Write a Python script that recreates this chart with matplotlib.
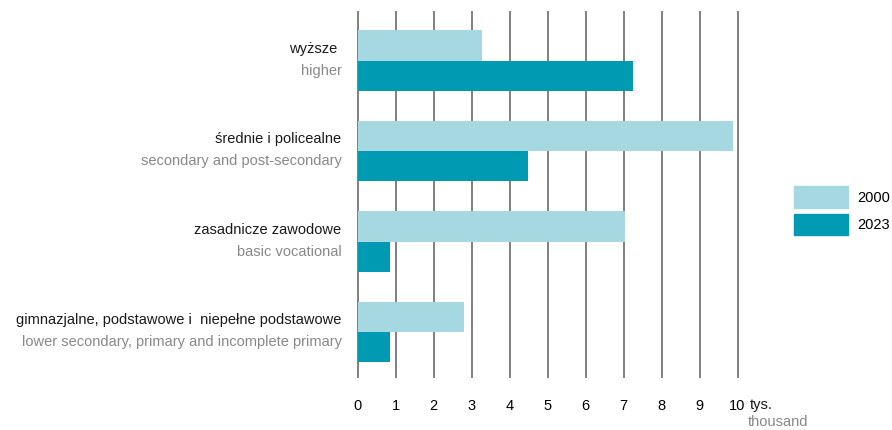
import numpy as np
import matplotlib
matplotlib.use("Agg")
import matplotlib.pyplot as plt
from matplotlib.patches import Patch

plt.rcParams['font.family'] = ['Liberation Sans', 'DejaVu Sans']

# dane
labels_pl = ["wyższe ", "średnie i policealne", "zasadnicze zawodowe",
             "gimnazjalne, podstawowe i  niepełne podstawowe"]
labels_en = ["higher", "secondary and post-secondary", "basic vocational",
             "lower secondary, primary and incomplete primary"]
years = ["2000", "2023"]
values_2000 = [3.27, 9.87, 7.04, 2.81]
values_2023 = [7.25, 4.49, 0.86, 0.86]
xticks = list(range(0, 11))

c_light = "#a6d8e2"
c_dark = "#009ab3"
fs = 10.5

fig = plt.figure(figsize=(8.92, 4.30), dpi=100)
W, H = 892, 430
ax = fig.add_axes([357.5 / W, 1 - 377 / H, (737.5 - 357.5) / W, (377 - 12) / H])

y = np.arange(len(labels_pl))
h = 0.332
ax.barh(y - h / 2, values_2000, height=h, color=c_light, label=years[0], zorder=3)
ax.barh(y + h / 2, values_2023, height=h, color=c_dark, label=years[1], zorder=3)

ax.set_xlim(0, 10)
ax.set_ylim(3.497, -0.536)
ax.set_xticks(xticks)
ax.set_xticklabels([str(t) for t in xticks], fontsize=fs)
ax.set_yticks([])
for s in ax.spines.values():
    s.set_visible(False)
for t in xticks:
    ax.axvline(t, color="#7f7f7f", lw=1.4, zorder=1, clip_on=False)
ax.tick_params(axis="x", length=0, pad=16)

# etykiety kategorii
for i in range(len(labels_pl)):
    ax.annotate(labels_pl[i], xy=(0, i), xycoords=("axes fraction", "data"),
                xytext=(-11.5, 8.5), textcoords="offset points",
                ha="right", va="center", fontsize=fs, color="#1a1a1a")
    ax.annotate(labels_en[i], xy=(0, i), xycoords=("axes fraction", "data"),
                xytext=(-11.5, -7.5), textcoords="offset points",
                ha="right", va="center", fontsize=fs, color="#888888")

ax.annotate("tys.", xy=(1, 0), xycoords="axes fraction",
            xytext=(9, -20), textcoords="offset points",
            ha="left", va="center", fontsize=fs, color="#1a1a1a")
ax.annotate("thousand", xy=(1, 0), xycoords="axes fraction",
            xytext=(51, -32.5), textcoords="offset points",
            ha="right", va="center", fontsize=fs, color="#888888")

handles = [Patch(color=c_light), Patch(color=c_dark)]
fig.legend(handles, years, loc="center left", bbox_to_anchor=(781 / W, 1 - 211 / H),
           frameon=False, fontsize=fs, handlelength=3.7, handleheight=1.9,
           labelspacing=0.4, handletextpad=0.6)

fig.savefig("out.png", dpi=100)
